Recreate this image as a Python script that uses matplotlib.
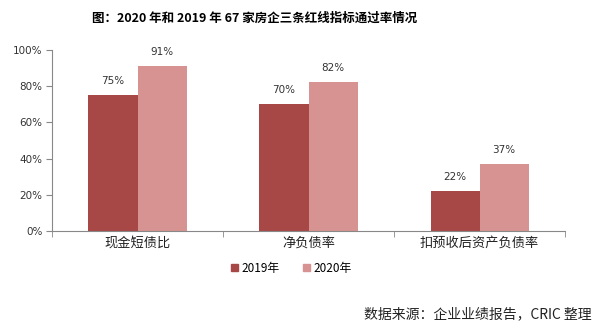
import numpy as np
import matplotlib.pyplot as plt
from matplotlib.patches import Patch

plt.rcParams['font.family'] = ['Noto Sans CJK SC', 'DejaVu Sans']

categories = ['现金短债比', '净负债率', '扣预收后资产负债率']
rate_2019 = [75, 70, 22]
rate_2020 = [91, 82, 37]
series_names = ['2019年', '2020年']

c2019 = '#A84846'
c2020 = '#D69391'
axis_gray = '#888888'

fig = plt.figure(figsize=(5.98, 3.24), dpi=100)
ax = fig.add_axes([0.087, 0.287, 0.858, 0.559])

x = np.arange(len(categories))
w = 0.287
b1 = ax.bar(x - w / 2, rate_2019, w, color=c2019)
b2 = ax.bar(x + w / 2, rate_2020, w, color=c2020)

for bars, vals in ((b1, rate_2019), (b2, rate_2020)):
    for rect, v in zip(bars, vals):
        ax.text(rect.get_x() + rect.get_width() / 2, v + 5, f'{v}%',
                ha='center', va='bottom', fontsize=7.5, color='#333333',
                family='DejaVu Sans')

ax.set_xlim(-0.5, len(categories) - 0.5)
ax.set_ylim(0, 100)
ax.set_yticks(np.arange(0, 101, 20))
ax.set_yticklabels([f'{v}%' for v in range(0, 101, 20)], fontsize=7.5,
                   family='DejaVu Sans', color='#333333')

# category labels sit between the boundary tick marks
ax.set_xticks(x)
ax.set_xticklabels(categories, fontsize=9.5, color='#222222')
ax.tick_params(axis='x', length=0, pad=4)
ax.set_xticks(np.arange(-0.5, len(categories)), minor=True)
ax.tick_params(axis='x', which='minor', length=4, color=axis_gray)
ax.tick_params(axis='y', length=4, color=axis_gray, pad=3)

for side in ('top', 'right'):
    ax.spines[side].set_visible(False)
for side in ('left', 'bottom'):
    ax.spines[side].set_color(axis_gray)
    ax.spines[side].set_linewidth(0.8)

handles = [Patch(color=c2019), Patch(color=c2020)]
fig.legend(handles, series_names, loc='center', bbox_to_anchor=(0.487, 0.172),
           ncol=2, frameon=False, fontsize=8.5, handlelength=0.6, handleheight=0.6,
           handletextpad=0.3, columnspacing=2.0)

fig.text(0.425, 0.945, '图：2020 年和 2019 年 67 家房企三条红线指标通过率情况',
         ha='center', va='center', fontsize=9, fontweight='bold')
fig.text(0.99, 0.03, '数据来源：企业业绩报告，CRIC 整理', ha='right', va='center',
         fontsize=10, color='#222222')

fig.savefig('out.png', dpi=100)
